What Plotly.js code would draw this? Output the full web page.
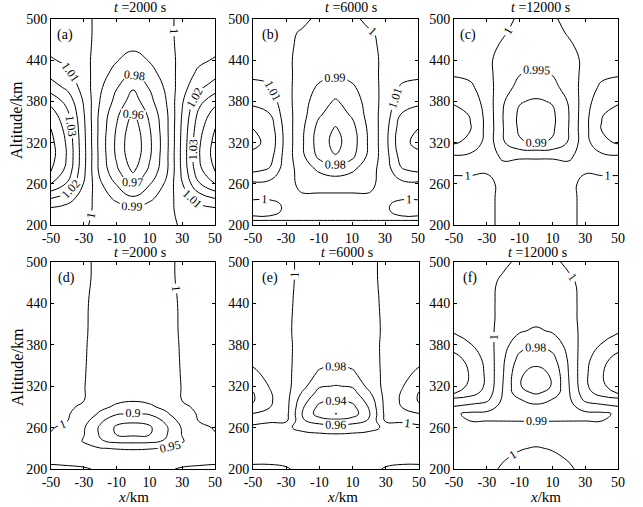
<!DOCTYPE html>
<html>
<head>
<meta charset="utf-8">
<script src="https://cdn.plot.ly/plotly-3.0.1.min.js"></script>
<style>html,body{margin:0;padding:0;background:#fff;}#chart{width:643px;height:507px;}</style>
</head>
<body>
<div id="chart"></div>
<script>
// ---- data ----
const xKm = [-50, -40, -30, -20, -10, 0, 10, 20, 30, 40, 50];
const xTickVals = [-50, -30, -10, 10, 30, 50];
const xTickText = ['-50', '-30', '-10', '10', '30', '50'];
const yTickVals = [200, 260, 320, 380, 440, 500];
const panelTitles = ['<i>t</i> =2000 s', '<i>t</i> =6000 s', '<i>t</i> =12000 s', '<i>t</i> =2000 s', '<i>t</i> =6000 s', '<i>t</i> =12000 s'];
const panelLetters = ['(a)', '(b)', '(c)', '(d)', '(e)', '(f)'];

// (a) t=2000 s
const altA = [200, 220, 240, 260, 280, 300, 320, 340, 360, 380, 400, 420, 440, 460, 480, 500];
const ratioA = [
  [1.002, 1.0014, 1.0005, 0.9988, 0.9967, 0.995, 0.9967, 0.9988, 1.0005, 1.0014, 1.002],
  [1.006, 1.0043, 1.0014, 0.9985, 0.996, 0.994, 0.996, 0.9985, 1.0014, 1.0043, 1.006],
  [1.021, 1.0151, 1.005, 0.9953, 0.9873, 0.981, 0.9873, 0.9953, 1.005, 1.0151, 1.021],
  [1.040, 1.0288, 1.0096, 0.9915, 0.9792, 0.969, 0.9792, 0.9915, 1.0096, 1.0288, 1.040],
  [1.051, 1.0367, 1.0122, 0.987, 0.9719, 0.958, 0.9719, 0.987, 1.0122, 1.0367, 1.051],
  [1.054, 1.0389, 1.013, 0.9865, 0.9685, 0.953, 0.9685, 0.9865, 1.013, 1.0389, 1.054],
  [1.053, 1.0382, 1.0127, 0.986, 0.9678, 0.952, 0.9678, 0.986, 1.0127, 1.0382, 1.053],
  [1.050, 1.036, 1.012, 0.9865, 0.9692, 0.954, 0.9692, 0.9865, 1.012, 1.036, 1.050],
  [1.045, 1.0324, 1.0108, 0.987, 0.9719, 0.958, 0.9719, 0.987, 1.0108, 1.0324, 1.045],
  [1.037, 1.0266, 1.0089, 0.9895, 0.9766, 0.965, 0.9766, 0.9895, 1.0089, 1.0266, 1.037],
  [1.025, 1.018, 1.006, 0.9915, 0.9806, 0.971, 0.9806, 0.9915, 1.006, 1.018, 1.025],
  [1.017, 1.0122, 1.0041, 0.9942, 0.9859, 0.979, 0.9859, 0.9942, 1.0041, 1.0122, 1.017],
  [1.011, 1.0079, 1.0026, 0.9962, 0.9906, 0.986, 0.9906, 0.9962, 1.0026, 1.0079, 1.011],
  [1.007, 1.005, 1.0017, 0.998, 0.9946, 0.992, 0.9946, 0.998, 1.0017, 1.005, 1.007],
  [1.004, 1.0029, 1.001, 0.999, 0.9973, 0.996, 0.9973, 0.999, 1.001, 1.0029, 1.004],
  [1.002, 1.0014, 1.0005, 0.9995, 0.9987, 0.998, 0.9987, 0.9995, 1.0005, 1.0014, 1.002]
];

// (b) t=6000 s
const altB = [200, 210, 220, 230, 240, 250, 260, 280, 300, 320, 340, 360, 380, 400, 420, 440, 460, 480, 500];
const ratioB = [
  [0.998, 0.998, 0.998, 0.998, 0.998, 0.998, 0.998, 0.998, 0.998, 0.998, 0.998],
  [1.001, 1.001, 1.001, 1.001, 1.001, 1.001, 1.001, 1.001, 1.001, 1.001, 1.001],
  [0.998, 0.998, 1.001, 1.002, 1.002, 1.002, 1.002, 1.002, 1.001, 0.998, 0.998],
  [0.998, 0.998, 1.001, 1.002, 1.002, 1.002, 1.002, 1.002, 1.001, 0.998, 0.998],
  [1.001, 1.001, 1.0015, 1.001, 1.001, 1.001, 1.001, 1.001, 1.0015, 1.001, 1.001],
  [1.004, 1.0035, 1.002, 0.9995, 0.9995, 0.9995, 0.9995, 0.9995, 1.002, 1.0035, 1.004],
  [1.008, 1.007, 1.0015, 0.9989, 0.997, 0.996, 0.997, 0.9989, 1.0015, 1.007, 1.008],
  [1.022, 1.019, 1.0042, 0.996, 0.9886, 0.985, 0.9886, 0.996, 1.0042, 1.019, 1.022],
  [1.028, 1.0244, 1.0053, 0.992, 0.9776, 0.9705, 0.9776, 0.992, 1.0053, 1.0244, 1.028],
  [1.032, 1.0278, 1.0061, 0.9911, 0.9749, 0.967, 0.9749, 0.9911, 1.0061, 1.0278, 1.032],
  [1.030, 1.0261, 1.0057, 0.9916, 0.9764, 0.969, 0.9764, 0.9916, 1.0057, 1.0261, 1.030],
  [1.024, 1.0209, 1.0046, 0.9933, 0.981, 0.975, 0.981, 0.9933, 1.0046, 1.0209, 1.024],
  [1.018, 1.0157, 1.0034, 0.9943, 0.984, 0.979, 0.984, 0.9943, 1.0034, 1.0157, 1.018],
  [1.013, 1.0113, 1.0025, 0.9958, 0.9882, 0.9845, 0.9882, 0.9958, 1.0025, 1.0113, 1.013],
  [1.008, 1.007, 1.0015, 0.9977, 0.9935, 0.9915, 0.9935, 0.9977, 1.0015, 1.007, 1.008],
  [1.005, 1.0044, 1.001, 0.9984, 0.9954, 0.994, 0.9954, 0.9984, 1.001, 1.0044, 1.005],
  [1.003, 1.0026, 1.001, 0.9989, 0.997, 0.996, 0.997, 0.9989, 1.001, 1.0026, 1.003],
  [1.002, 1.0017, 1.001, 0.9995, 0.9977, 0.997, 0.9977, 0.9995, 1.001, 1.0017, 1.002],
  [1.001, 1.0009, 1.001, 1.001, 0.999, 0.998, 0.999, 1.001, 1.001, 1.0009, 1.001]
];

// (c) t=12000 s
const altC = [200, 220, 240, 260, 280, 300, 320, 340, 360, 380, 400, 420, 440, 460, 480, 500];
const ratioC = [
  [0.998, 0.998, 0.999, 1.001, 1.002, 1.002, 1.002, 1.001, 0.999, 0.998, 0.998],
  [0.998, 0.998, 0.999, 1.001, 1.002, 1.002, 1.002, 1.001, 0.999, 0.998, 0.998],
  [0.998, 0.998, 0.999, 1.001, 1.002, 1.002, 1.002, 1.001, 0.999, 0.998, 0.998],
  [0.9985, 0.9987, 0.999, 1.001, 1.002, 1.002, 1.002, 1.001, 0.999, 0.9987, 0.9985],
  [1.001, 1.00085, 1.0004, 1.001, 1.002, 1.002, 1.002, 1.001, 1.0004, 1.00085, 1.001],
  [1.0045, 1.0038, 1.0014, 0.9995, 0.9995, 0.9995, 0.9995, 0.9995, 1.0014, 1.0038, 1.0045],
  [1.0105, 1.0089, 1.0032, 0.9956, 0.9906, 0.9895, 0.9906, 0.9956, 1.0032, 1.0089, 1.0105],
  [1.012, 1.0102, 1.0036, 0.9951, 0.9892, 0.988, 0.9892, 0.9951, 1.0036, 1.0102, 1.012],
  [1.0115, 1.0098, 1.0035, 0.9949, 0.989, 0.9878, 0.989, 0.9949, 1.0035, 1.0098, 1.0115],
  [1.0095, 1.0081, 1.0029, 0.9955, 0.9904, 0.9893, 0.9904, 0.9955, 1.0029, 1.0081, 1.0095],
  [1.007, 1.006, 1.0021, 0.997, 0.9935, 0.9928, 0.9935, 0.997, 1.0021, 1.006, 1.007],
  [1.0045, 1.0038, 1.0014, 0.9977, 0.9951, 0.9945, 0.9951, 0.9977, 1.0014, 1.0038, 1.0045],
  [1.003, 1.0026, 1.001, 0.9982, 0.9962, 0.9958, 0.9962, 0.9982, 1.001, 1.0026, 1.003],
  [1.002, 1.0017, 1.001, 0.9995, 0.9973, 0.997, 0.9973, 0.9995, 1.001, 1.0017, 1.002],
  [1.0015, 1.0013, 1.001, 1.0003, 0.999, 0.998, 0.999, 1.0003, 1.001, 1.0013, 1.0015],
  [1.001, 1.0009, 1.001, 1.001, 0.9995, 0.9985, 0.9995, 1.001, 1.001, 1.0009, 1.001]
];

// (d) t=2000 s
const altD = [200, 210, 220, 230, 240, 250, 260, 270, 280, 290, 300, 320, 340, 360, 380, 400, 440, 480, 500];
const ratioD = [
  [1.002, 1.002, 1.0015, 0.998, 0.996, 0.995, 0.996, 0.998, 1.0015, 1.002, 1.002],
  [0.999, 0.998, 0.996, 0.993, 0.991, 0.99, 0.991, 0.993, 0.996, 0.998, 0.999],
  [0.998, 0.994, 0.985, 0.978, 0.973, 0.97, 0.973, 0.978, 0.985, 0.994, 0.998],
  [0.996, 0.985, 0.975, 0.952, 0.947, 0.945, 0.947, 0.952, 0.975, 0.985, 0.996],
  [0.998, 0.99, 0.945, 0.905, 0.89, 0.888, 0.89, 0.905, 0.945, 0.99, 0.998],
  [0.999, 0.992, 0.952, 0.895, 0.848, 0.84, 0.848, 0.895, 0.952, 0.992, 0.999],
  [1.0015, 0.995, 0.955, 0.892, 0.842, 0.833, 0.842, 0.892, 0.955, 0.995, 1.0015],
  [1.003, 1.0005, 0.97, 0.91, 0.865, 0.858, 0.865, 0.91, 0.97, 1.0005, 1.003],
  [1.003, 1.002, 0.99, 0.94, 0.905, 0.895, 0.905, 0.94, 0.99, 1.002, 1.003],
  [1.003, 1.002, 0.998, 0.965, 0.94, 0.93, 0.94, 0.965, 0.998, 1.002, 1.003],
  [1.003, 1.002, 1.0005, 0.98, 0.962, 0.955, 0.962, 0.98, 1.0005, 1.002, 1.003],
  [1.003, 1.002, 1.001, 0.988, 0.978, 0.975, 0.978, 0.988, 1.001, 1.002, 1.003],
  [1.003, 1.002, 1.001, 0.993, 0.987, 0.985, 0.987, 0.993, 1.001, 1.002, 1.003],
  [1.002, 1.002, 1.001, 0.995, 0.991, 0.99, 0.991, 0.995, 1.001, 1.002, 1.002],
  [1.002, 1.0015, 1.001, 0.996, 0.993, 0.992, 0.993, 0.996, 1.001, 1.0015, 1.002],
  [1.002, 1.0015, 1.001, 0.997, 0.995, 0.994, 0.995, 0.997, 1.001, 1.0015, 1.002],
  [1.0015, 1.001, 1.0008, 0.998, 0.997, 0.996, 0.997, 0.998, 1.0008, 1.001, 1.0015],
  [1.001, 1.001, 1.0008, 0.999, 0.998, 0.997, 0.998, 0.999, 1.0008, 1.001, 1.001],
  [1.001, 1.001, 1.0008, 0.999, 0.998, 0.997, 0.998, 0.999, 1.0008, 1.001, 1.001]
];

// (e) t=6000 s
const altE = [200, 210, 220, 230, 240, 250, 260, 270, 280, 290, 300, 310, 320, 340, 360, 380, 400, 440, 480, 500];
const ratioE = [
  [1.002, 1.002, 1.001, 0.997, 0.996, 0.995, 0.996, 0.997, 1.001, 1.002, 1.002],
  [0.999, 0.999, 0.998, 0.995, 0.994, 0.993, 0.994, 0.995, 0.998, 0.999, 0.999],
  [0.998, 0.997, 0.995, 0.992, 0.991, 0.99, 0.991, 0.992, 0.995, 0.997, 0.998],
  [0.997, 0.996, 0.993, 0.99, 0.989, 0.988, 0.989, 0.99, 0.993, 0.996, 0.997],
  [0.996, 0.995, 0.991, 0.987, 0.986, 0.985, 0.986, 0.987, 0.991, 0.995, 0.996],
  [0.997, 0.994, 0.988, 0.984, 0.982, 0.981, 0.982, 0.984, 0.988, 0.994, 0.997],
  [0.998, 0.995, 0.983, 0.975, 0.972, 0.970, 0.972, 0.975, 0.983, 0.995, 0.998],
  [1.003, 1.002, 1.004, 0.962, 0.95, 0.946, 0.95, 0.962, 1.004, 1.002, 1.003],
  [1.019, 1.012, 1.006, 0.958, 0.93, 0.9195, 0.93, 0.958, 1.006, 1.012, 1.019],
  [1.037, 1.021, 1.007, 0.962, 0.935, 0.93, 0.935, 0.962, 1.007, 1.021, 1.037],
  [1.042, 1.023, 1.007, 0.968, 0.945, 0.941, 0.945, 0.968, 1.007, 1.023, 1.042],
  [1.041, 1.022, 1.007, 0.977, 0.953, 0.95, 0.953, 0.977, 1.007, 1.022, 1.041],
  [1.035, 1.019, 1.006, 0.986, 0.962, 0.959, 0.962, 0.986, 1.006, 1.019, 1.035],
  [1.024, 1.013, 1.005, 0.99, 0.978, 0.976, 0.978, 0.99, 1.005, 1.013, 1.024],
  [1.014, 1.008, 1.004, 0.993, 0.987, 0.985, 0.987, 0.993, 1.004, 1.008, 1.014],
  [1.009, 1.005, 1.003, 0.995, 0.991, 0.99, 0.991, 0.995, 1.003, 1.005, 1.009],
  [1.006, 1.004, 1.002, 0.996, 0.994, 0.993, 0.994, 0.996, 1.002, 1.004, 1.006],
  [1.004, 1.003, 1.002, 0.997, 0.996, 0.996, 0.996, 0.997, 1.002, 1.003, 1.004],
  [1.003, 1.002, 1.002, 0.998, 0.997, 0.997, 0.997, 0.998, 1.002, 1.002, 1.003],
  [1.002, 1.002, 1.002, 0.998, 0.998, 0.998, 0.998, 0.998, 1.002, 1.002, 1.002]
];

// (f) t=12000 s
const altF = [200, 215, 230, 245, 260, 270, 280, 290, 300, 310, 320, 340, 360, 380, 400, 420, 440, 470, 500];
const ratioF = [
  [0.997, 0.997, 0.998, 1.001, 1.002, 1.002, 1.002, 1.001, 0.998, 0.997, 0.997],
  [0.997, 0.997, 0.997, 0.9995, 1.0015, 1.0015, 1.0015, 0.9995, 0.997, 0.997, 0.997],
  [0.997, 0.997, 0.997, 0.998, 0.9995, 1.0005, 0.9995, 0.998, 0.997, 0.997, 0.997],
  [0.996, 0.996, 0.996, 0.996, 0.997, 0.997, 0.997, 0.996, 0.996, 0.996, 0.996],
  [0.995, 0.995, 0.995, 0.995, 0.995, 0.995, 0.995, 0.995, 0.995, 0.995, 0.995],
  [0.993, 0.9898, 0.9898, 0.9897, 0.9896, 0.9895, 0.9896, 0.9897, 0.9898, 0.9898, 0.993],
  [0.9915, 0.988, 0.988, 0.987, 0.986, 0.985, 0.986, 0.987, 0.988, 0.988, 0.9915],
  [0.9995, 0.997, 0.994, 0.987, 0.983, 0.982, 0.983, 0.987, 0.994, 0.997, 0.9995],
  [1.006, 1.005, 1.002, 0.988, 0.9805, 0.977, 0.9805, 0.988, 1.002, 1.005, 1.006],
  [1.021, 1.014, 1.006, 0.989, 0.973, 0.969, 0.973, 0.989, 1.006, 1.014, 1.021],
  [1.025, 1.018, 1.008, 0.9895, 0.9705, 0.966, 0.9705, 0.9895, 1.008, 1.018, 1.025],
  [1.027, 1.019, 1.008, 0.9905, 0.9715, 0.967, 0.9715, 0.9905, 1.008, 1.019, 1.027],
  [1.024, 1.016, 1.007, 0.9915, 0.977, 0.974, 0.977, 0.9915, 1.007, 1.016, 1.024],
  [1.015, 1.0105, 1.005, 0.9935, 0.984, 0.981, 0.984, 0.9935, 1.005, 1.0105, 1.015],
  [1.009, 1.006, 1.004, 0.995, 0.991, 0.9885, 0.991, 0.995, 1.004, 1.006, 1.009],
  [1.006, 1.004, 1.003, 0.997, 0.995, 0.9935, 0.995, 0.997, 1.003, 1.004, 1.006],
  [1.004, 1.003, 1.002, 0.998, 0.9965, 0.996, 0.9965, 0.998, 1.002, 1.003, 1.004],
  [1.0025, 1.002, 1.0015, 0.999, 0.998, 0.9975, 0.998, 0.999, 1.0015, 1.002, 1.0025],
  [1.0015, 1.0015, 1.0015, 1.001, 0.999, 0.9985, 0.999, 1.001, 1.0015, 1.0015, 1.0015]
];

// contour levels per panel [start, end, step]
const levelsA = [0.95, 1.06, 0.01];
const levelsB = [0.96, 1.04, 0.01];
const levelsC = [0.985, 1.015, 0.005];
const levelsD = [0.80, 1.05, 0.05];
const levelsE = [0.92, 1.06, 0.02];
const levelsF = [0.96, 1.04, 0.01];

// ---- drawing ----
const FONT = 'Liberation Serif';
const W = 643, H = 507;
const panels = [
  {y: altA, z: ratioA, lv: levelsA},
  {y: altB, z: ratioB, lv: levelsB},
  {y: altC, z: ratioC, lv: levelsC},
  {y: altD, z: ratioD, lv: levelsD},
  {y: altE, z: ratioE, lv: levelsE},
  {y: altF, z: ratioF, lv: levelsF}
];
// pixel boxes of the six plot areas [left, right, top, bottom]
const boxes = [
  [51, 215, 19, 225], [253, 418, 19, 225], [454, 618, 19, 225],
  [51, 215, 262, 469], [253, 419, 262, 469], [454, 618, 262, 469]
];

const traces = panels.map((p, i) => ({
  type: 'contour',
  x: xKm, y: p.y, z: p.z,
  xaxis: i === 0 ? 'x' : 'x' + (i + 1),
  yaxis: i === 0 ? 'y' : 'y' + (i + 1),
  contours: {
    coloring: 'none', start: p.lv[0], end: p.lv[1], size: p.lv[2],
    showlabels: true,
    labelfont: {family: FONT, size: 12, color: '#000'}
  },
  line: {color: '#000', width: 1, smoothing: 1.3},
  showscale: false, hoverinfo: 'skip'
}));

const layout = {
  width: W, height: H,
  margin: {l: 0, r: 0, t: 0, b: 0},
  paper_bgcolor: '#fff', plot_bgcolor: '#fff',
  showlegend: false,
  font: {family: FONT, size: 14, color: '#000'},
  annotations: []
};

boxes.forEach((b, i) => {
  const xa = i === 0 ? 'xaxis' : 'xaxis' + (i + 1);
  const ya = i === 0 ? 'yaxis' : 'yaxis' + (i + 1);
  const common = {
    ticks: 'inside', ticklen: 3, tickcolor: '#000', tickwidth: 1,
    showline: true, linecolor: '#000', linewidth: 1, mirror: 'ticks',
    showgrid: false, zeroline: false, fixedrange: true,
    tickfont: {family: FONT, size: 14, color: '#000'}
  };
  layout[xa] = Object.assign({}, common, {
    domain: [b[0] / W, b[1] / W], range: [-50, 50],
    tickmode: 'array', tickvals: xTickVals, ticktext: xTickText,
    anchor: i === 0 ? 'y' : 'y' + (i + 1)
  });
  layout[ya] = Object.assign({}, common, {
    domain: [1 - b[3] / H, 1 - b[2] / H], range: [200, 500],
    tickmode: 'array', tickvals: yTickVals,
    anchor: i === 0 ? 'x' : 'x' + (i + 1)
  });
});

const titleX = [140, 351, 540, 140, 347, 537];
const titleY = [8, 8, 8, 252, 252, 252];
const letterX = [65, 270, 468, 66, 270, 470];
const letterY = [35, 35, 35, 278, 278, 278];
for (let i = 0; i < 6; i++) {
  layout.annotations.push({
    xref: 'paper', yref: 'paper', x: titleX[i] / W, y: 1 - titleY[i] / H,
    xanchor: 'center', yanchor: 'middle', showarrow: false,
    text: panelTitles[i], font: {family: FONT, size: 14, color: '#000'}
  });
  layout.annotations.push({
    xref: 'paper', yref: 'paper', x: letterX[i] / W, y: 1 - letterY[i] / H,
    xanchor: 'center', yanchor: 'middle', showarrow: false,
    text: panelLetters[i], font: {family: FONT, size: 14, color: '#000'}
  });
}
[[16, 120], [17, 367]].forEach(p => layout.annotations.push({
  xref: 'paper', yref: 'paper', x: p[0] / W, y: 1 - p[1] / H,
  xanchor: 'center', yanchor: 'middle', showarrow: false, textangle: -90,
  text: 'Altitude/km', font: {family: FONT, size: 16, color: '#000'}
}));
[133, 342, 545].forEach(px => layout.annotations.push({
  xref: 'paper', yref: 'paper', x: px / W, y: 1 - 497 / H,
  xanchor: 'center', yanchor: 'middle', showarrow: false,
  text: '<i>x</i>/km', font: {family: FONT, size: 15, color: '#000'}
}));

Plotly.newPlot('chart', traces, layout, {staticPlot: true, displayModeBar: false});
</script>
</body>
</html>
